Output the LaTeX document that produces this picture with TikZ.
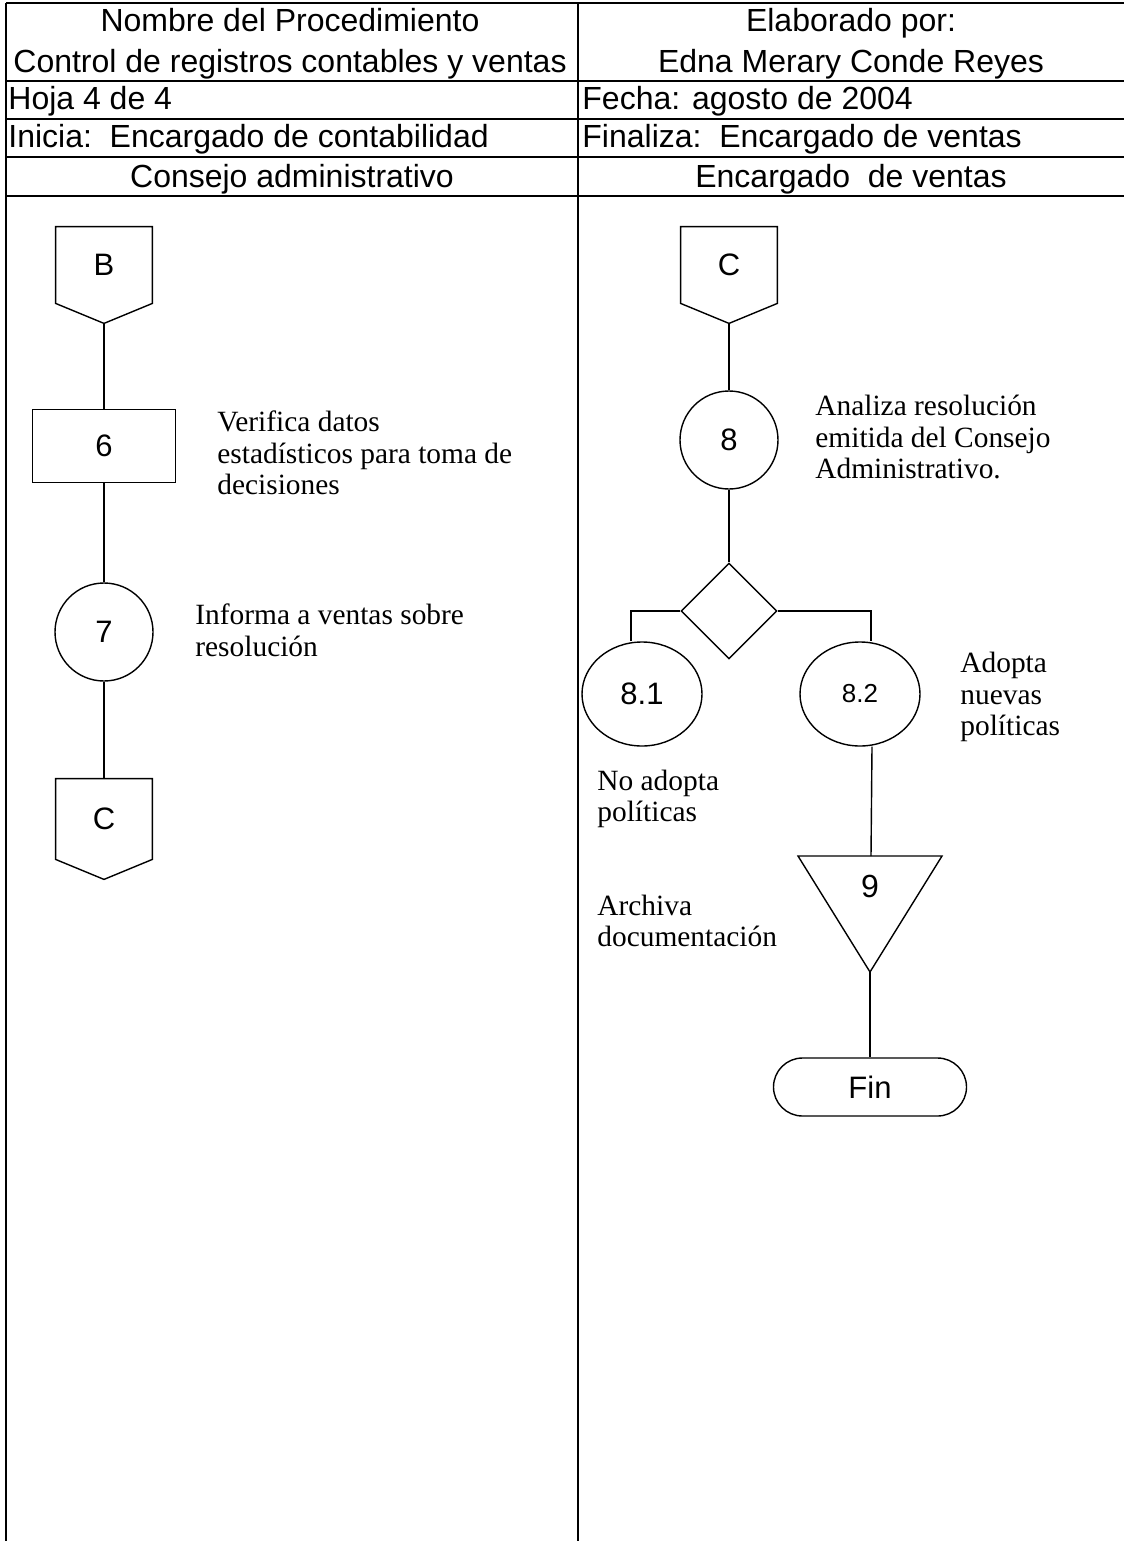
\documentclass[tikz,border=0pt]{standalone}
\usepackage{fontspec}
\setmainfont{Liberation Serif}
\newfontfamily\arial{Liberation Sans}
\usetikzlibrary{shapes.geometric}
\newcommand{\tabla}{\arial\fontsize{16}{18}\selectfont}
\newcommand{\figura}{\arial\fontsize{15.5}{18}\selectfont}
\newcommand{\chica}{\arial\fontsize{13}{15}\selectfont}
\newcommand{\nota}{\fontsize{14.7}{15.8}\selectfont}

\tikzset{
	linea/.style = { line width=0.7pt },
	marco/.style = { line width=1.1pt },
	celda/.style = { font=\tabla, inner sep=0pt, anchor=base },
	texto/.style = { font=\nota, align=left, anchor=west, inner sep=0pt },
	conector/.style = { font=\figura, inner sep=0pt, minimum width=48pt, minimum height=38pt },
	proceso/.style = { linea, draw, font=\figura, minimum width=71.5pt, minimum height=36.5pt },
	operacion/.style = { linea, draw, circle, font=\figura, minimum size=49pt, inner sep=0pt },
	decision/.style = { linea, draw, diamond, minimum width=48pt, minimum height=48pt, inner sep=0pt },
	opcion/.style = { linea, draw, ellipse, font=\figura, minimum width=60pt, minimum height=52pt, inner sep=0pt },
	terminal/.style = { linea, draw, rounded corners=14.5pt, font=\figura, minimum width=96.5pt, minimum height=29pt }
}

\begin{document}
\begin{tikzpicture}[ x=0.5pt, y=-0.5pt ]
	\useasboundingbox (0,0) rectangle (1124,1541);

	\draw [ marco ] (6,3) -- (1124,3);
	\draw [ marco ] (6,81) -- (1124,81);
	\draw [ marco ] (6,119) -- (1124,119);
	\draw [ marco ] (6,157) -- (1124,157);
	\draw [ marco ] (6,196) -- (1124,196);
	\draw [ marco ] (6,3) -- (6,1541);
	\draw [ marco ] (578,3) -- (578,1541);

	\node [ celda ] (nombre) at (290,32) {Nombre del Procedimiento};
	\node [ celda ] (control) at (290,73) {Control de registros contables y ventas};
	\node [ celda ] (elaborado) at (851,32) {Elaborado por:};
	\node [ celda ] (autora) at (851,73) {Edna Merary Conde Reyes};
	\node [ celda, anchor=base west ] (hoja) at (8,110) {Hoja 4 de 4};
	\node [ celda, anchor=base west ] (fecha) at (582,110) {Fecha: agosto de 2004};
	\node [ celda, anchor=base west ] (inicia) at (8,148) {Inicia:\ \ Encargado de contabilidad};
	\node [ celda, anchor=base west ] (finaliza) at (582,148) {Finaliza:\ \ Encargado de ventas};
	\node [ celda ] (consejo) at (292,187) {Consejo administrativo};
	\node [ celda ] (ventas) at (851,187) {Encargado\ \ de ventas};

	\node [ conector ] (B) at (104,265) {B};
	\draw [ linea ] (B.north west) -- (B.north east) -- (B.south east)
		-- ([yshift=-10pt]B.south) coordinate (Bp) -- (B.south west) -- cycle;
	\node [ proceso ] (6) at (104,446) {6};
	\node [ texto ] (t6) at (217,453)
		{Verifica datos\\estadísticos para toma de\\decisiones};
	\node [ operacion ] (7) at (104,632) {7};
	\node [ texto ] (t7) at (195,630)
		{Informa a ventas sobre\\resolución};
	\node [ conector, minimum height=40pt ] (C1) at (104,819) {C};
	\draw [ linea ] (C1.north west) -- (C1.north east) -- (C1.south east)
		-- ([yshift=-10pt]C1.south) -- (C1.south west) -- cycle;
	\draw [ linea ] (Bp) -- (6);
	\draw [ linea ] (6) -- (7);
	\draw [ linea ] (7) -- (C1.north);

	\node [ conector ] (C2) at (729,265) {C};
	\draw [ linea ] (C2.north west) -- (C2.north east) -- (C2.south east)
		-- ([yshift=-10pt]C2.south) coordinate (C2p) -- (C2.south west) -- cycle;
	\node [ operacion ] (8) at (729,440) {8};
	\node [ texto ] (t8) at (815,437)
		{Analiza resolución\\emitida del Consejo\\Administrativo.};
	\node [ decision ] (d) at (729,611) {};
	\node [ opcion ] (81) at (642,694) {8.1};
	\node [ opcion, font=\chica ] (82) at (860,694) {8.2};
	\node [ texto ] (t82) at (960,697) {Adopta\\nuevas\\políticas};
	\node [ texto ] (t81) at (597,799) {No adopta\\políticas};
	\node [ celda, anchor=center ] (9) at (870,886) {9};
	\coordinate (9a) at (798,856);
	\coordinate (9b) at (942,856);
	\coordinate (9p) at (870,972);
	\coordinate (9n) at (871,856);
	\draw [ linea ] (9a) -- (9b) -- (9p) -- cycle;
	\node [ texto ] (t9) at (597,921) {Archiva\\documentación};
	\node [ terminal ] (fin) at (870,1087) {Fin};
	\draw [ linea ] (C2p) -- (8);
	\draw [ linea ] (8) -- (d);
	\draw [ linea ] (d.west) -| ([xshift=-5.5pt]81.north);
	\draw [ linea ] (d.east) -| ([xshift=5.5pt]82.north);
	\draw [ linea ] ([xshift=6pt]82.south) -- (9n);
	\draw [ linea ] (9p) -- (fin);
\end{tikzpicture}
\end{document}
